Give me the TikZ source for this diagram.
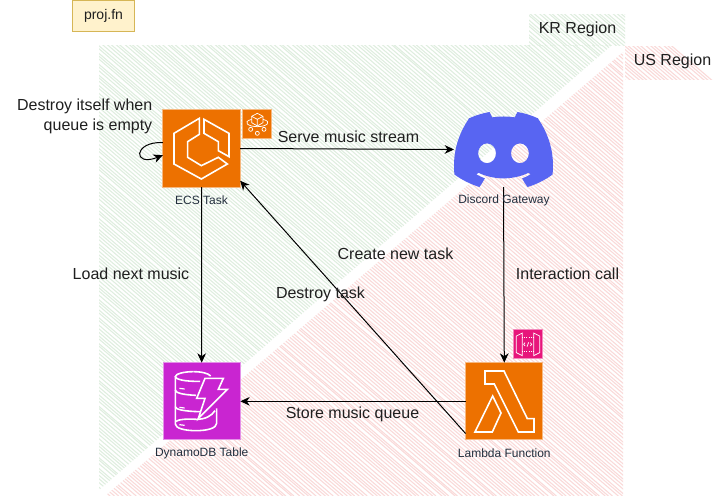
\documentclass[tikz,border=0pt]{standalone}
\usepackage{fontspec}
\setmainfont{Liberation Sans}
\usetikzlibrary{arrows.meta,calc}
\definecolor{awsorange}{HTML}{ED7100}
\definecolor{awspurple}{HTML}{C925D1}
\definecolor{awspink}{HTML}{E7157B}
\definecolor{awstext}{HTML}{232F3E}
\definecolor{dcblue}{HTML}{5865F2}
\definecolor{hgreen}{HTML}{D5E8D4}
\definecolor{hred}{HTML}{F8CECC}
\definecolor{noteyellow}{HTML}{FFF2CC}
\definecolor{noteline}{HTML}{D6B656}
\definecolor{inktext}{HTML}{1F1F1F}
\tikzset{
  x=0.75pt,y=-0.75pt,
  awsbox/.style={draw=white!50!#1,fill=#1,line width=0.75pt,minimum size=58pt,inner sep=0pt,outer sep=0pt},
  awssmall/.style={draw=white!50!#1,fill=#1,line width=0.75pt,minimum size=22pt,inner sep=0pt,outer sep=0pt},
  caption/.style={font=\fontsize{9}{11}\selectfont,text=awstext,inner sep=0pt},
  lbl/.style={font=\fontsize{12}{15}\selectfont,text=inktext,inner sep=0pt},
  flow/.style={black,line width=0.75pt,-{Stealth[length=7pt,width=6.5pt,inset=2.2pt]}},
  glyph/.style={white,line width=1.2pt,line join=miter},
  thinglyph/.style={white,line width=0.55pt},
  zoomed/.style={x=0.25pt,y=-0.25pt},
  hatchg/.style={hgreen!75!white,line width=0.8pt},
  hatchr/.style={hred!75!white,line width=0.8pt},
}
\newcommand{\hatchlines}[2]{%
  \pgfmathsetseed{#2}%
  \foreach \k in {-60,...,260}{%
    \pgfmathsetmacro{\jit}{rand*1.1}%
    \pgfmathsetmacro{\jtt}{rand*1.1}%
    \draw[#1] ({\k*4.3-500+\jit},0) -- ({\k*4.3+80+\jtt},496);%
  }%
}
\begin{document}
\begin{tikzpicture}
\useasboundingbox (0,0) rectangle (719,496);
\fill[white] (0,0) rectangle (719,496);

% hatched regions
\begin{scope}
  \clip (99,45) -- (612,45) -- (99,490) -- cycle;
  \hatchlines{hatchg}{11}
\end{scope}
\begin{scope}
  \clip (623,52) -- (623,496) -- (105,496) -- cycle;
  \hatchlines{hatchr}{23}
\end{scope}
\begin{scope}
  \clip (529,14) rectangle (625,45);
  \hatchlines{hatchg}{37}
\end{scope}
\begin{scope}
  \clip (625,46) rectangle (719,79);
  \hatchlines{hatchr}{41}
\end{scope}

% nodes
\node[draw=noteline,fill=noteyellow,line width=0.75pt,minimum width=46.5pt,minimum height=23.25pt,inner sep=0pt,lbl,font=\fontsize{10.5}{13}\selectfont] (proj) at (103.5,16) {proj.fn};
\node[awsbox=awsorange] (ecs) at (201.5,148.5) {};
\node[awssmall=awsorange] (fargate) at (257,124.3) {};
\node[awsbox=awsorange] (lambda) at (504.3,401.3) {};
\node[awssmall=awspink] (apigw) at (528.3,344.3) {};
\node[awsbox=awspurple] (dynamo) at (201.7,401.3) {};
\node[minimum width=74.25pt,minimum height=56.25pt,inner sep=0pt,outer sep=0pt] (discord) at (503.5,149.5) {};

% ECS glyph
\begin{scope}[zoomed]
  \draw[glyph] (598,355) -- (522,400) -- (522,492) -- (604,537) -- (682,492) -- (655,472) -- (604,497) -- (563,472) -- (563,425) -- (598,403) -- cycle;
  \draw[glyph] (612,358) -- (687,400) -- (687,470) -- (655,452) -- (655,425) -- (612,400) -- cycle;
  % fargate glyph
  \draw[thinglyph] (772,340) -- (755,349) -- (755,368) -- (772,378) -- (789,368) -- (789,349) -- cycle;
  \draw[thinglyph] (755,349) -- (772,358) -- (789,349) (772,358) -- (772,378);
  \draw[thinglyph] (755,358) .. controls (725,366) and (745,380) .. (772,380) .. controls (799,380) and (819,366) .. (789,358);
  \draw[thinglyph] (752,388) circle (6) (772,400) circle (6) (792,388) circle (6);
\end{scope}

% Lambda + API gateway glyphs
\begin{scope}[shift={(440,320)},zoomed]
  \draw[glyph] (135,153) -- (192,153) -- (262,296) -- (282,296) -- (282,336) -- (235,336) -- (163,192) -- (135,192) -- cycle;
  \draw[glyph] (158,228) -- (183,279) -- (157,336) -- (105,336) -- cycle;
  \draw[thinglyph] (229,48) -- (247,39) -- (247,107) -- (229,98) -- cycle;
  \draw[thinglyph] (281,39) -- (299,48) -- (299,98) -- (281,107) -- cycle;
  \draw[thinglyph,densely dotted] (247,53) -- (281,53) (247,93) -- (281,93);
  \draw[thinglyph] (255,68) -- (251,73) -- (255,78) (261,80) -- (266,67) (271,68) -- (275,73) -- (271,78);
\end{scope}

% DynamoDB glyph
\begin{scope}[shift={(90,340)},zoomed]
  \draw[glyph] (310,95) .. controls (280,95) and (256,102) .. (256,110) .. controls (256,118) and (285,125) .. (330,124);
  \draw[glyph] (310,95) .. controls (335,95) and (355,100) .. (362,108);
  \draw[glyph] (256,110) -- (256,150) .. controls (256,158) and (275,164) .. (318,166);
  \draw[glyph] (256,150) -- (256,200) .. controls (256,208) and (280,214) .. (330,215);
  \draw[glyph] (256,200) -- (256,252) .. controls (256,265) and (285,272) .. (318,272) .. controls (350,272) and (380,265) .. (380,250) -- (380,205);
  \draw[glyph] (256,245) .. controls (265,238) and (290,236) .. (320,238) .. controls (345,238) and (365,228) .. (375,212);
  \draw[glyph] (345,115) -- (400,115) -- (385,148) -- (412,148) -- (325,235) -- (345,175) -- (320,175) -- cycle;
  \draw[thinglyph,line width=0.9pt] (268,145) -- (284,147) (268,202) -- (284,204) (268,254) -- (284,256);
\end{scope}

% Discord logo
\begin{scope}[shift={(454,112)},x=0.584pt,y=-0.584pt]
  \fill[dcblue,even odd rule]
    (107.7,8.07) .. controls (99.5,4.3) and (90.7,1.6) .. (81.47,0)
    .. controls (80.2,2.2) and (79.1,4.5) .. (78.11,6.83)
    .. controls (68.5,5.4) and (58.6,5.4) .. (49,6.83)
    .. controls (48,4.5) and (46.9,2.2) .. (45.64,0)
    .. controls (36.5,1.6) and (27.7,4.3) .. (19.39,8.09)
    .. controls (2.79,32.65) and (-1.71,56.6) .. (0.54,80.21)
    .. controls (10,87.2) and (21,92.6) .. (32.71,96.36)
    .. controls (35.3,92.8) and (37.6,89.1) .. (39.6,85.25)
    .. controls (35.8,83.8) and (32.2,82.1) .. (28.75,80.07)
    .. controls (29.66,79.41) and (30.55,78.73) .. (31.41,78.07)
    .. controls (51.7,87.6) and (75.4,87.6) .. (95.73,78.07)
    .. controls (96.6,78.78) and (97.49,79.46) .. (98.39,80.07)
    .. controls (94.9,82.1) and (91.3,83.9) .. (87.52,85.27)
    .. controls (89.5,89.2) and (91.8,92.9) .. (94.41,96.37)
    .. controls (106,92.8) and (117,87.4) .. (126.6,80.22)
    .. controls (129.24,52.84) and (122.09,29.11) .. (107.7,8.07) -- cycle
    (42.45,53) ellipse [x radius=11.45,y radius=12.7]
    (84.69,53) ellipse [x radius=11.45,y radius=12.7];
\end{scope}

% connectors
\draw[flow] (ecs.east) -- (discord.west);
\draw[flow] (discord.south) -- (lambda.north);
\draw[flow] (ecs.south) -- (dynamo.north);
\draw[flow] (lambda.west) -- (dynamo.east);
\draw[flow] ([yshift=-24.2pt]lambda.west) -- ([yshift=-24.2pt]ecs.east);
\draw[flow] ([yshift=4.5pt]ecs.west) .. controls ++(-30,-1) and ++(-30,12) .. ([yshift=-5pt]ecs.west);

% captions
\node[caption] (ecscap) at (201.5,200) {ECS Task};
\node[caption] (dccap) at (504,200) {Discord Gateway};
\node[caption] (lamcap) at (504.3,453.5) {Lambda Function};
\node[caption] (dyncap) at (201.7,453.5) {DynamoDB Table};

% labels
\node[lbl,align=right,anchor=east] (selflbl) at (152.5,116.5) {Destroy itself when\\queue is empty};
\node[lbl] (l1) at (348.5,137) {Serve music stream};
\node[lbl] (l2) at (131,274) {Load next music};
\node[lbl] (l3) at (395.5,253.5) {Create new task};
\node[lbl] (l4) at (320.5,294) {Destroy task};
\node[lbl] (l5) at (567.5,274) {Interaction call};
\node[lbl] (l6) at (352.5,414) {Store music queue};
\node[lbl] (kr) at (577.5,29) {KR Region};
\node[lbl] (us) at (672.5,61.5) {US Region};
\end{tikzpicture}
\end{document}
